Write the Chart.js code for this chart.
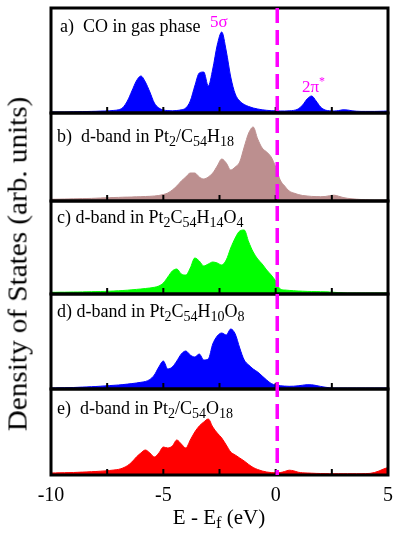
<!DOCTYPE html>
<html>
<head>
<meta charset="utf-8">
<script src="https://cdn.jsdelivr.net/npm/chart.js@4.4.1/dist/chart.umd.min.js"></script>
<style>
  html, body { margin: 0; padding: 0; background: #fff; }
  #wrap { position: relative; width: 393px; height: 534px; overflow: hidden;
          font-family: "Liberation Serif", "Times New Roman", serif; color: #000; }
  #dos { position: absolute; left: 0; top: 0; }
  .lbl { position: absolute; font-size: 18px; line-height: 18px; white-space: nowrap; }
  .lbl sub, #xtitle sub { font-size: 78%; position: relative; top: 0.25em; vertical-align: baseline; }
  .orb { position: absolute; color: #ff00ff; font-size: 17px; line-height: 17px; white-space: nowrap; }
  .orb sup { font-size: 70%; position: relative; top: -0.55em; vertical-align: baseline; }
  #ytitle { position: absolute; left: 17.5px; top: 264px; font-size: 27px; line-height: 27px;
            white-space: nowrap; transform: translate(-50%, -50%) rotate(-90deg) scaleX(1.08); }
  #xtitle { position: absolute; left: 219px; top: 507px; font-size: 21px; line-height: 21px;
            white-space: nowrap; transform: translateX(-50%); }
</style>
</head>
<body>
<div id="wrap">
  <canvas id="dos" width="393" height="534"></canvas>
  <div class="lbl" style="left:60px; top:17px;">a)&nbsp; CO in gas phase</div>
  <div class="lbl" style="left:57px; top:127px;">b)&nbsp; d-band in Pt<sub>2</sub>/C<sub>54</sub>H<sub>18</sub></div>
  <div class="lbl" style="left:57px; top:208px;">c) d-band in Pt<sub>2</sub>C<sub>54</sub>H<sub>14</sub>O<sub>4</sub></div>
  <div class="lbl" style="left:57px; top:302px;">d) d-band in Pt<sub>2</sub>C<sub>54</sub>H<sub>10</sub>O<sub>8</sub></div>
  <div class="lbl" style="left:57px; top:399px;">e)&nbsp; d-band in Pt<sub>2</sub>/C<sub>54</sub>O<sub>18</sub></div>
  <div class="orb" style="left:210px; top:13px;">5σ</div>
  <div class="orb" style="left:302px; top:78px;">2π<sup>*</sup></div>
  <div id="ytitle">Density of States (arb. units)</div>
  <div id="xtitle">E - E<sub>f</sub> (eV)</div>
</div>
<script>
// energy grid, 0.2 eV steps from -10 to 5
const energy = [];
for (let i = 0; i <= 75; i++) energy.push(Math.round((-10 + i * 0.2) * 10) / 10);

const dosCO = [1, 1, 1, 1, 1.1, 1.2, 1.3, 1.4, 1.5, 1.6,
  1.7, 1.9, 2, 2.2, 2.6, 3.2, 5.5, 12, 22, 32,
  37, 31, 21, 10, 5, 3, 2.4, 2.2, 2.5, 3.2,
  5, 12, 27, 40, 41, 27, 44, 68, 81, 62,
  36, 19, 12, 8.5, 6.5, 5, 4, 3.2, 2.7, 2.3,
  2.1, 2, 2, 2.2, 2.6, 4, 8, 14, 17, 12,
  6, 3, 2.2, 2, 2.4, 3.2, 3, 2.2, 1.8, 1.6,
  1.6, 1.6, 1.6, 1.7, 1.8, 2];
const dosB = [1.7, 1.8, 1.9, 2, 2.1, 2.2, 2.3, 2.4, 2.5, 2.6,
  2.8, 3, 3.2, 3.3, 3.5, 3.6, 3.8, 3.9, 4, 4.2,
  4.3, 4.5, 4.7, 5, 5.5, 6.5, 8, 11, 15, 20,
  24, 28, 28, 24, 22, 24, 28, 35, 42, 38,
  31, 34, 39, 54, 68, 74, 62, 53, 49, 44,
  34, 21, 15, 10, 8, 6.5, 5.5, 5, 4.6, 4.4,
  4.3, 4.5, 5.3, 5.8, 4.8, 3.5, 2.7, 2.2, 1.8, 1.5,
  1.3, 1.1, 1, 1, 1, 1];
const dosC = [1.7, 1.7, 1.8, 1.8, 1.9, 2, 2, 2.1, 2.2, 2.3,
  2.4, 2.5, 2.6, 2.8, 3, 3.2, 3.5, 3.8, 4.2, 4.6,
  5, 5.5, 6, 6.7, 8, 11, 17, 23, 25, 20,
  19, 26, 36, 33, 28, 30, 32, 31, 29, 34,
  46, 56, 63, 64, 52, 42, 35, 30, 24, 19,
  13, 5, 4, 3.6, 3.3, 3, 2.8, 2.6, 2.5, 2.4,
  2.3, 2.2, 2, 1.7, 1.4, 1.2, 1, 1, 1, 1,
  1, 1, 1, 1, 1, 1];
const dosD = [1, 1.1, 1.2, 1.3, 1.4, 1.5, 1.7, 1.9, 2.1, 2.3,
  2.5, 2.8, 3.1, 3.4, 3.7, 4, 4.4, 4.9, 5.4, 6,
  6.7, 7.5, 9.5, 14, 22, 28, 20, 22, 28, 35,
  38, 34, 32, 35, 29, 30, 45, 53, 56, 54,
  60, 55, 41, 29, 24, 20, 17, 13, 9, 5.5,
  4, 3.3, 2.9, 2.7, 2.8, 3.2, 3.8, 4.3, 4.2, 3.5,
  2.6, 1.8, 1.2, 1, 1, 1, 1, 1, 1, 1,
  1, 1, 1, 1, 1, 1];
const dosE = [2, 2.1, 2.2, 2.3, 2.4, 2.5, 2.7, 2.9, 3.1, 3.3,
  3.5, 3.8, 4.1, 4.5, 5, 5.6, 7, 9.3, 13, 18,
  22, 25, 22, 18, 22, 28, 27, 29, 35, 31,
  27, 35, 43, 49, 53, 56, 48, 42, 37, 30,
  23, 20, 17, 14, 10.5, 7.5, 5.5, 4, 3, 2.4,
  2.2, 2.4, 3.5, 4.8, 4.2, 2.8, 2.2, 2, 1.8, 1.6,
  1.5, 1.4, 1.3, 1.3, 1.3, 1.3, 1.3, 1.3, 1.3, 1.3,
  1.4, 1.6, 2.5, 4, 6, 7.5];

const panelIds = ['yA', 'yB', 'yC', 'yD', 'yE'];
const panelColors = ['#0000ff', '#bc8f8f', '#00ff00', '#0000ff', '#ff0000'];
const panelMax = [105, 88, 93, 95, 86];
const panelData = [dosCO, dosB, dosC, dosD, dosE];
const tickMarks = [-7.5, -5, -2.5, 0, 2.5];
const fermiLevel = 0.07;

const panelFrame = {
    id: 'panelFrame',
    afterDatasetsDraw(chart) {
        const ctx = chart.ctx;
        const xs = chart.scales.x;
        ctx.save();
        ctx.strokeStyle = '#000';
        panelIds.forEach(id => {
            const ys = chart.scales[id];
            ctx.lineWidth = 2;
            tickMarks.forEach(v => {
                const px = xs.getPixelForValue(v);
                ctx.beginPath();
                ctx.moveTo(px, ys.bottom);
                ctx.lineTo(px, ys.bottom - 6);
                ctx.stroke();
            });
            ctx.lineWidth = 3;
            ctx.strokeRect(xs.left, ys.top, xs.right - xs.left, ys.bottom - ys.top);
        });
        // Fermi level
        const fx = xs.getPixelForValue(fermiLevel);
        ctx.strokeStyle = '#ff00ff';
        ctx.lineWidth = 3.5;
        ctx.setLineDash([15, 7]);
        ctx.beginPath();
        ctx.moveTo(fx, chart.chartArea.top);
        ctx.lineTo(fx, chart.chartArea.bottom);
        ctx.stroke();
        ctx.restore();
    }
};

const scales = {
    x: {
        type: 'linear',
        position: 'bottom',
        min: -10,
        max: 5,
        grid: { display: false, drawTicks: false },
        border: { display: false },
        afterFit: s => {
            s.height = 59;
            s.paddingLeft = 0;
            s.paddingRight = 0;
        },
        ticks: {
            stepSize: 2.5,
            autoSkip: false,
            maxRotation: 0,
            padding: 9,
            color: '#000',
            font: { family: '"Liberation Serif", serif', size: 20 },
            callback: v => (v % 5 === 0 ? String(v) : '')
        }
    }
};
// last-defined left axis ends up on top of the stack
for (let i = panelIds.length - 1; i >= 0; i--) {
    scales[panelIds[i]] = {
        type: 'linear',
        position: 'left',
        stack: 'dos',
        stackWeight: panelMax[i],
        min: 0,
        max: panelMax[i],
        grid: { display: false, drawTicks: false },
        border: { display: false },
        ticks: { display: false }
    };
}

new Chart(document.getElementById('dos'), {
    type: 'line',
    data: {
        datasets: panelIds.map((id, i) => ({
            data: energy.map((e, j) => ({ x: e, y: panelData[i][j] })),
            yAxisID: id,
            backgroundColor: panelColors[i],
            borderColor: panelColors[i],
            borderWidth: 1,
            pointRadius: 0,
            fill: 'origin',
            cubicInterpolationMode: 'monotone'
        }))
    },
    options: {
        responsive: false,
        animation: false,
        devicePixelRatio: 1,
        layout: { padding: { left: 51, right: 5, top: 8, bottom: 0 } },
        plugins: { legend: { display: false }, tooltip: { enabled: false } },
        scales: scales
    },
    plugins: [panelFrame]
});
</script>
</body>
</html>
